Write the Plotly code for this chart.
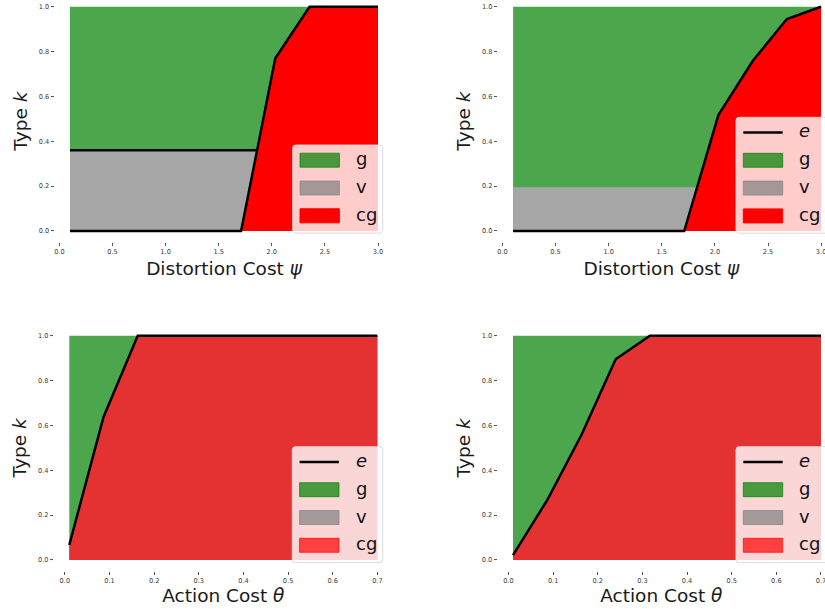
import plotly.graph_objects as go

# ---------------- data ----------------
psi = [0.1, 0.422, 0.744, 1.067, 1.389, 1.711, 2.033, 2.356, 2.678, 3.0]
e_psi_left = [0.0, 0.0, 0.0, 0.0, 0.0, 0.0, 0.77, 1.0, 1.0, 1.0]
v_psi_left = 0.36
e_psi_right = [0.0, 0.0, 0.0, 0.0, 0.0, 0.0, 0.517, 0.758, 0.945, 1.0]
v_psi_right = 0.195

theta = [0.01, 0.0867, 0.1633, 0.24, 0.3167, 0.3933, 0.47, 0.5467, 0.6233, 0.7]
e_theta_left = [0.067, 0.638, 1.0, 1.0, 1.0, 1.0, 1.0, 1.0, 1.0, 1.0]
e_theta_right = [0.022, 0.267, 0.557, 0.895, 1.0, 1.0, 1.0, 1.0, 1.0, 1.0]

k_top = 1.0
x_ticks_psi = [0.0, 0.5, 1.0, 1.5, 2.0, 2.5, 3.0]
x_ticks_theta = [0.0, 0.1, 0.2, 0.3, 0.4, 0.5, 0.6, 0.7]
y_ticks = [0.0, 0.2, 0.4, 0.6, 0.8, 1.0]
legend_full = ["e", "g", "v", "cg"]
legend_no_e = ["g", "v", "cg"]

# ---------------- style ----------------
W, H = 825, 609
GREEN = "#4ca64c"
GRAY = "#a6a6a6"
RED_TOP = "#ff0000"
RED_BOT = "#e43232"
FONT = "DejaVu Sans"


def px(x):
    return x / W


def py(y):
    return 1 - y / H


def crossing(xs, ys, level):
    for i in range(len(xs) - 1):
        if ys[i] <= level < ys[i + 1]:
            t = (level - ys[i]) / (ys[i + 1] - ys[i])
            return xs[i] + t * (xs[i + 1] - xs[i])
    return xs[-1]


panels = [
    dict(n="", xs=psi, e=e_psi_left, v=v_psi_left, vline=True, red=RED_TOP,
         xdom=(54.6, 393.4), xr=(-0.045, 3.145), ydom=(0, 242.2), yr=(-0.05, 1.0299),
         xt=x_ticks_psi, xtitle="Distortion Cost <i>ψ</i>", xstand=6,
         leg=dict(left=292.7, top=145.0, right=382.7, items=legend_no_e)),
    dict(n="2", xs=psi, e=e_psi_right, v=v_psi_right, vline=False, red=RED_TOP,
         xdom=(497.7, 825), xr=(-0.045, 3.0367), ydom=(0, 242.2), yr=(-0.05, 1.0299),
         xt=x_ticks_psi, xtitle="Distortion Cost <i>ψ</i>", xstand=6,
         leg=dict(left=736.0, top=117.3, right=832, items=legend_full)),
    dict(n="3", xs=theta, e=e_theta_left, v=None, vline=False, red=RED_BOT,
         xdom=(53.9, 392.8), xr=(-0.0245, 0.7345), ydom=(324.5, 571.2), yr=(-0.05, 1.05),
         xt=x_ticks_theta, xtitle="Action Cost <i>θ</i>", xstand=4,
         leg=dict(left=292.3, top=446.7, right=382.7, items=legend_full)),
    dict(n="4", xs=theta, e=e_theta_right, v=None, vline=False, red=RED_BOT,
         xdom=(497.6, 825), xr=(-0.0245, 0.709), ydom=(324.5, 571.2), yr=(-0.05, 1.05),
         xt=x_ticks_theta, xtitle="Action Cost <i>θ</i>", xstand=4,
         leg=dict(left=736.0, top=446.7, right=832, items=legend_full)),
]

fig = go.Figure()
shapes = []
annotations = []

for p in panels:
    xa = "x" + p["n"]
    ya = "y" + p["n"]
    xs = p["xs"]
    top = [k_top for _ in xs]
    # green region (full)
    fig.add_trace(go.Scatter(x=xs, y=top, mode="lines", fill="tozeroy",
                             fillcolor=GREEN, line=dict(width=0, color=GREEN),
                             xaxis=xa, yaxis=ya, showlegend=False, hoverinfo="skip"))
    # gray region
    if p["v"] is not None:
        fig.add_trace(go.Scatter(x=xs, y=[p["v"] for _ in xs], mode="lines", fill="tozeroy",
                                 fillcolor=GRAY, line=dict(width=0, color=GRAY),
                                 xaxis=xa, yaxis=ya, showlegend=False, hoverinfo="skip"))
    # red region
    fig.add_trace(go.Scatter(x=xs, y=p["e"], mode="lines", fill="tozeroy",
                             fillcolor=p["red"], line=dict(width=0, color=p["red"]),
                             xaxis=xa, yaxis=ya, showlegend=False, hoverinfo="skip"))
    # e boundary
    fig.add_trace(go.Scatter(x=xs, y=p["e"], mode="lines", name="e",
                             line=dict(width=2.5, color="black"),
                             xaxis=xa, yaxis=ya, showlegend=False, hoverinfo="skip"))
    if p["vline"]:
        xc = crossing(xs, p["e"], p["v"])
        fig.add_trace(go.Scatter(x=[xs[0], xc], y=[p["v"], p["v"]], mode="lines",
                                 line=dict(width=2.5, color="black"),
                                 xaxis=xa, yaxis=ya, showlegend=False, hoverinfo="skip"))

    axkw = dict(showgrid=False, zeroline=False, showline=False, ticks="outside",
                ticklen=3, tickwidth=1, tickcolor="#555555",
                ticklabeloverflow="allow",
                tickfont=dict(family=FONT, size=6.6, color="#3a3a3a"))
    fig.layout["xaxis" + p["n"]] = dict(
        domain=[px(p["xdom"][0]), px(p["xdom"][1])], range=list(p["xr"]),
        anchor=ya, tickvals=p["xt"], ticktext=["%.1f" % t for t in p["xt"]],
        automargin=True,
        title=dict(text=p["xtitle"], font=dict(family=FONT, size=18.5, color="#1a1a1a"),
                   standoff=p["xstand"]),
        **axkw)
    fig.layout["yaxis" + p["n"]] = dict(
        domain=[py(p["ydom"][1]), py(p["ydom"][0])], range=list(p["yr"]),
        anchor=xa, tickvals=y_ticks, ticktext=["%.1f" % t for t in y_ticks],
        automargin=True,
        title=dict(text="Type <i>k</i>", font=dict(family=FONT, size=18.5, color="#1a1a1a"),
                   standoff=6),
        **axkw)

    # ------------- custom legend -------------
    lg = p["leg"]
    n_items = len(lg["items"])
    x0, y0, x1 = lg["left"], lg["top"], lg["right"]
    y1 = y0 + 15.2 + 27.8 * (n_items - 1) + 17.3
    r = 3.0
    pts = [
        ("M", x0 + r, y0), ("L", x1 - r, y0), ("Q", x1, y0, x1, y0 + r),
        ("L", x1, y1 - r), ("Q", x1, y1, x1 - r, y1), ("L", x0 + r, y1),
        ("Q", x0, y1, x0, y1 - r), ("L", x0, y0 + r), ("Q", x0, y0, x0 + r, y0),
    ]
    path = ""
    for seg in pts:
        cmd = seg[0]
        coords = seg[1:]
        s = []
        for i in range(0, len(coords), 2):
            s.append("%.5f,%.5f" % (px(coords[i]), py(coords[i + 1])))
        path += cmd + " ".join(s) + " "
    path += "Z"
    shapes.append(dict(type="path", xref="paper", yref="paper", path=path,
                       fillcolor="rgba(255,255,255,0.8)",
                       line=dict(color="rgba(215,215,215,0.9)", width=1), layer="above"))
    sw_colors = {"g": "rgba(0,128,0,0.7)", "v": "rgba(128,128,128,0.7)",
                 "cg": "rgb(255,0,0)" if p["red"] == RED_TOP else "rgba(255,0,0,0.7)"}
    for i, lab in enumerate(lg["items"]):
        cy = y0 + 15.2 + 27.8 * i
        if lab == "e":
            shapes.append(dict(type="line", xref="paper", yref="paper",
                               x0=px(x0 + 7.3), x1=px(x0 + 46.7), y0=py(cy), y1=py(cy),
                               line=dict(color="black", width=2.5), layer="above"))
            txt = "<i>e</i>"
        else:
            shapes.append(dict(type="rect", xref="paper", yref="paper",
                               x0=px(x0 + 7.3), x1=px(x0 + 46.7),
                               y0=py(cy - 7), y1=py(cy + 7),
                               fillcolor=sw_colors[lab],
                               line=dict(color=sw_colors[lab], width=1), layer="above"))
            txt = lab
        annotations.append(dict(xref="paper", yref="paper", x=px(x0 + 61.3), y=py(cy - 1.5),
                                xanchor="left", yanchor="middle", showarrow=False,
                                text=txt, font=dict(family=FONT, size=18, color="#111111")))

fig.update_layout(
    width=W, height=H,
    margin=dict(l=0, r=0, t=0, b=0, pad=0, autoexpand=False),
    paper_bgcolor="white", plot_bgcolor="white",
    shapes=shapes, annotations=annotations,
    showlegend=False,
    font=dict(family=FONT),
)

fig.write_html("out.html",
               config={"displayModeBar": False},
               post_script="document.body.style.margin='0';document.body.style.overflow='hidden';")
